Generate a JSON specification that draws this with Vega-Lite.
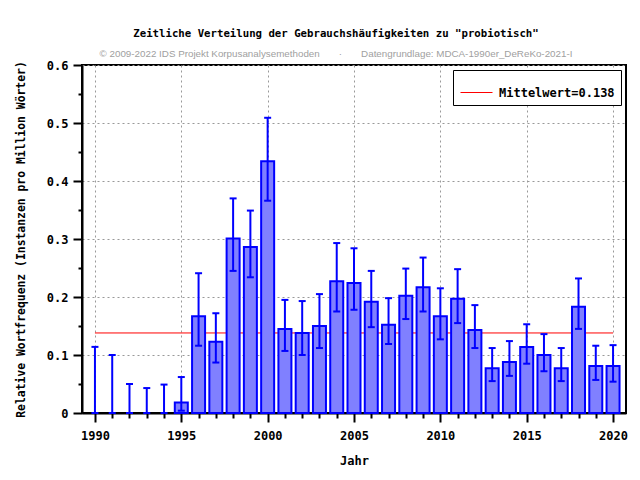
{
  "$schema": "https://vega.github.io/schema/vega-lite/v6.json",
  "width": 544,
  "height": 348,
  "autosize": {"type": "none"},
  "padding": {"left": 82, "top": 65, "right": 14, "bottom": 67},
  "background": "white",
  "title": {
    "text": "Zeitliche Verteilung der Gebrauchshäufigkeiten zu \"probiotisch\"",
    "subtitle": "© 2009-2022 IDS Projekt Korpusanalysemethoden\u00a0\u00a0\u00a0\u00a0\u00a0\u00a0\u00a0·\u00a0\u00a0\u00a0\u00a0\u00a0\u00a0\u00a0Datengrundlage: MDCA-1990er_DeReKo-2021-I\u00a0\u00a0\u00a0\u00a0\u00a0",
    "anchor": "middle",
    "dx": -18,
    "offset": -1,
    "font": "DejaVu Sans Mono",
    "fontWeight": "bold",
    "fontSize": 10.7,
    "color": "black",
    "subtitleFont": "Liberation Sans",
    "subtitleFontSize": 9.8,
    "subtitleColor": "#a0a0a0",
    "subtitlePadding": 10
  },
  "config": {
    "view": {"stroke": "black", "strokeWidth": 2},
    "scale": {"continuousPadding": 0},
    "axis": {
      "labelFont": "DejaVu Sans Mono",
      "labelFontWeight": "bold",
      "labelFontSize": 12,
      "labelColor": "black",
      "titleFont": "DejaVu Sans Mono",
      "titleFontWeight": "bold",
      "titleColor": "black",
      "domain": true,
      "domainColor": "black",
      "domainWidth": 2,
      "tickColor": "black",
      "tickWidth": 2,
      "gridColor": "#999999",
      "gridDash": [2, 3],
      "gridWidth": 1,
      "labelOverlap": false,
      "zindex": 1
    },
    "legend": {
      "orient": "top-right",
      "offset": 5,
      "strokeColor": "black",
      "fillColor": "white",
      "padding": 6,
      "symbolType": "stroke",
      "symbolSize": 1024,
      "symbolStrokeWidth": 1,
      "symbolOffset": 1,
      "labelOffset": 6,
      "labelFont": "DejaVu Sans Mono",
      "labelFontWeight": "bold",
      "labelFontSize": 12,
      "labelColor": "black"
    }
  },
  "datasets": {
    "freq": [
      {"year": 1990, "value": null, "lo": 0, "hi": 0.114},
      {"year": 1991, "value": null, "lo": 0, "hi": 0.100},
      {"year": 1992, "value": null, "lo": 0, "hi": 0.050},
      {"year": 1993, "value": null, "lo": 0, "hi": 0.043},
      {"year": 1994, "value": null, "lo": 0, "hi": 0.049},
      {"year": 1995, "value": 0.018, "lo": 0.004, "hi": 0.062},
      {"year": 1996, "value": 0.167, "lo": 0.116, "hi": 0.241},
      {"year": 1997, "value": 0.123, "lo": 0.087, "hi": 0.172},
      {"year": 1998, "value": 0.301, "lo": 0.245, "hi": 0.370},
      {"year": 1999, "value": 0.286, "lo": 0.234, "hi": 0.349},
      {"year": 2000, "value": 0.434, "lo": 0.366, "hi": 0.509},
      {"year": 2001, "value": 0.145, "lo": 0.107, "hi": 0.195},
      {"year": 2002, "value": 0.138, "lo": 0.100, "hi": 0.193},
      {"year": 2003, "value": 0.150, "lo": 0.112, "hi": 0.205},
      {"year": 2004, "value": 0.227, "lo": 0.175, "hi": 0.293},
      {"year": 2005, "value": 0.224, "lo": 0.178, "hi": 0.284},
      {"year": 2006, "value": 0.192, "lo": 0.148, "hi": 0.245},
      {"year": 2007, "value": 0.152, "lo": 0.119, "hi": 0.198},
      {"year": 2008, "value": 0.202, "lo": 0.162, "hi": 0.249},
      {"year": 2009, "value": 0.217, "lo": 0.175, "hi": 0.268},
      {"year": 2010, "value": 0.167, "lo": 0.127, "hi": 0.215},
      {"year": 2011, "value": 0.197, "lo": 0.155, "hi": 0.248},
      {"year": 2012, "value": 0.143, "lo": 0.112, "hi": 0.186},
      {"year": 2013, "value": 0.077, "lo": 0.055, "hi": 0.112},
      {"year": 2014, "value": 0.088, "lo": 0.064, "hi": 0.124},
      {"year": 2015, "value": 0.114, "lo": 0.085, "hi": 0.153},
      {"year": 2016, "value": 0.100, "lo": 0.072, "hi": 0.136},
      {"year": 2017, "value": 0.077, "lo": 0.055, "hi": 0.112},
      {"year": 2018, "value": 0.183, "lo": 0.145, "hi": 0.232},
      {"year": 2019, "value": 0.081, "lo": 0.057, "hi": 0.116},
      {"year": 2020, "value": 0.081, "lo": 0.054, "hi": 0.117}
    ],
    "mean": [
      {"label": "Mittelwert=0.138", "value": 0.138, "year": 1990, "year_end": 2020}
    ]
  },
  "encoding": {
    "x": {
      "field": "year", "type": "quantitative",
      "scale": {"domain": [1989.25, 2020.75], "nice": false, "zero": false, "padding": 0},
      "axis": {
        "title": "Jahr",
        "titleFontSize": 12,
        "titlePadding": 14,
        "values": [1990,1991,1992,1993,1994,1995,1996,1997,1998,1999,2000,2001,2002,2003,2004,2005,2006,2007,2008,2009,2010,2011,2012,2013,2014,2015,2016,2017,2018,2019,2020],
        "labelExpr": "datum.value % 5 == 0 ? '' + datum.value : ''",
        "labelPadding": 8,
        "tickSize": {"condition": {"test": "datum.value % 5 == 0", "value": 9}, "value": 5},
        "gridOpacity": {"condition": {"test": "datum.value % 5 == 0", "value": 1}, "value": 0}
      }
    },
    "y": {
      "field": "value", "type": "quantitative",
      "scale": {"domain": [0, 0.6], "nice": false, "padding": 0},
      "axis": {
        "title": "Relative Wortfrequenz (Instanzen pro Million Wörter)",
        "titleFontSize": 11.4,
        "titlePadding": 20,
        "values": [0, 0.05, 0.1, 0.15, 0.2, 0.25, 0.3, 0.35, 0.4, 0.45, 0.5, 0.55, 0.6],
        "labelExpr": "abs(datum.value*10 - round(datum.value*10)) < 0.001 ? (datum.value == 0 ? '0' : format(datum.value, '.1f')) : ''",
        "labelPadding": 5,
        "tickSize": {"condition": {"test": "abs(datum.value*10 - round(datum.value*10)) < 0.001", "value": 9}, "value": 4},
        "gridOpacity": {"condition": {"test": "abs(datum.value*10 - round(datum.value*10)) < 0.001", "value": 1}, "value": 0}
      }
    }
  },
  "layer": [
    {
      "data": {"name": "mean"},
      "mark": {"type": "rule", "strokeWidth": 1},
      "encoding": {
        "x2": {"field": "year_end"},
        "color": {
          "field": "label", "type": "nominal",
          "scale": {"domain": ["Mittelwert=0.138"], "range": ["#ff0000"]},
          "legend": {"title": null}
        }
      }
    },
    {
      "data": {"name": "freq"},
      "mark": {"type": "bar", "size": 13, "fill": "#8080ff", "stroke": "#0000ff", "strokeWidth": 2},
      "encoding": {}
    },
    {
      "data": {"name": "freq"},
      "mark": {"type": "rule", "color": "#0000ff", "strokeWidth": 2},
      "encoding": {
        "y": {"field": "lo", "type": "quantitative"},
        "y2": {"field": "hi"}
      }
    },
    {
      "data": {"name": "freq"},
      "mark": {"type": "tick", "orient": "horizontal", "color": "#0000ff", "size": 7, "thickness": 2, "opacity": 1},
      "encoding": {
        "y": {"field": "hi", "type": "quantitative"}
      }
    },
    {
      "data": {"name": "freq"},
      "mark": {"type": "tick", "orient": "horizontal", "color": "#0000ff", "size": 7, "thickness": 2, "opacity": 1},
      "encoding": {
        "y": {"field": "lo", "type": "quantitative"}
      }
    }
  ]
}
